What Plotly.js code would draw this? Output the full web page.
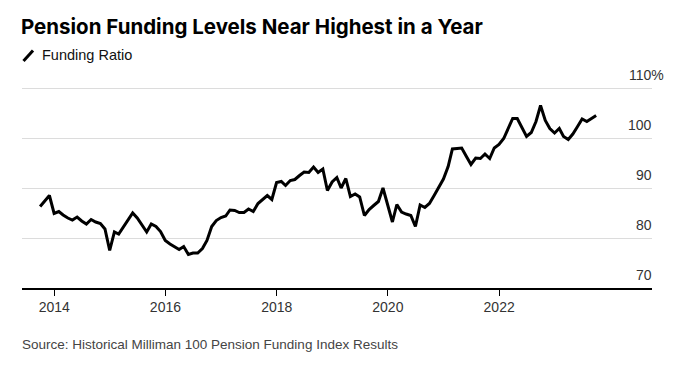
<!DOCTYPE html>
<html>
<head>
<meta charset="utf-8">
<script src="https://cdn.plot.ly/plotly-3.0.1.min.js"></script>
<style>
  html, body { margin: 0; padding: 0; background: #ffffff; }
  #chart { width: 700px; height: 367px; }
</style>
</head>
<body>
<div id="chart"></div>
<script>
// Month-end dates of the Milliman 100 Pension Funding Index
const dates = [
  "2013-09-30","2013-10-31","2013-11-30","2013-12-31",
  "2014-01-31","2014-02-28","2014-03-31","2014-04-30","2014-05-31","2014-06-30","2014-07-31","2014-08-31","2014-09-30","2014-10-31","2014-11-30","2014-12-31",
  "2015-01-31","2015-02-28","2015-03-31","2015-04-30","2015-05-31","2015-06-30","2015-07-31","2015-08-31","2015-09-30","2015-10-31","2015-11-30","2015-12-31",
  "2016-01-31","2016-02-29","2016-03-31","2016-04-30","2016-05-31","2016-06-30","2016-07-31","2016-08-31","2016-09-30","2016-10-31","2016-11-30","2016-12-31",
  "2017-01-31","2017-02-28","2017-03-31","2017-04-30","2017-05-31","2017-06-30","2017-07-31","2017-08-31","2017-09-30","2017-10-31","2017-11-30","2017-12-31",
  "2018-01-31","2018-02-28","2018-03-31","2018-04-30","2018-05-31","2018-06-30","2018-07-31","2018-08-31","2018-09-30","2018-10-31","2018-11-30","2018-12-31",
  "2019-01-31","2019-02-28","2019-03-31","2019-04-30","2019-05-31","2019-06-30","2019-07-31","2019-08-31","2019-09-30","2019-10-31","2019-11-30","2019-12-31",
  "2020-01-31","2020-02-29","2020-03-31","2020-04-30","2020-05-31","2020-06-30","2020-07-31","2020-08-31","2020-09-30","2020-10-31","2020-11-30","2020-12-31",
  "2021-01-31","2021-02-28","2021-03-31","2021-04-30","2021-05-31","2021-06-30","2021-07-31","2021-08-31","2021-09-30","2021-10-31","2021-11-30","2021-12-31",
  "2022-01-31","2022-02-28","2022-03-31","2022-04-30","2022-05-31","2022-06-30","2022-07-31","2022-08-31","2022-09-30","2022-10-31","2022-11-30","2022-12-31",
  "2023-01-31","2023-02-28","2023-03-31","2023-04-30","2023-05-31","2023-06-30","2023-07-31","2023-08-31","2023-09-30"
];

// Funding ratio (%)
const fundingRatio = [
  86.3, 87.4, 88.5, 84.9,
  85.3, 84.6, 84.0, 83.6, 84.2, 83.4, 82.8, 83.7, 83.2, 82.9, 81.8, 77.5,
  81.2, 80.8, 82.2, 83.6, 85.0, 84.0, 82.6, 81.2, 82.8, 82.3, 81.3, 79.5,
  78.8, 78.3, 77.7, 78.3, 76.7, 77.0, 77.0, 77.9, 79.5, 82.3, 83.5, 84.1,
  84.4, 85.6, 85.5, 85.1, 85.1, 85.8, 85.3, 86.9, 87.7, 88.5, 87.7, 91.1,
  91.3, 90.5, 91.5, 91.7, 92.5, 93.2, 93.1, 94.2, 93.1, 93.8, 89.5, 91.2,
  92.1, 90.0, 91.9, 88.3, 88.8, 88.2, 84.5, 85.7, 86.5, 87.3, 90.0, 86.3,
  83.2, 86.7, 85.2, 84.8, 84.5, 82.3, 86.6, 86.1, 86.9, 88.5, 90.2, 91.8,
  94.3, 97.8, 97.9, 98.0, 96.3, 94.7, 96.0, 95.9, 96.8, 95.9, 98.0, 98.7,
  99.9, 101.7, 103.9, 103.9, 102.0, 100.3, 101.1, 103.3, 106.5, 103.5, 101.9, 101.0,
  101.9, 100.3, 99.7, 100.8, 102.3, 103.8, 103.3, 103.9, 104.5
];

const xTickVals = ["2014-01-01", "2016-01-01", "2018-01-01", "2020-01-01", "2022-01-01"];
const xTickText = ["2014", "2016", "2018", "2020", "2022"];
const yTickVals = [70, 80, 90, 100, 110];
const yTickText = ["70", "80", "90", "100", "110%"];

const titleText = "Pension Funding Levels Near Highest in a Year";
const seriesName = "Funding Ratio";
const sourceText = "Source: Historical Milliman 100 Pension Funding Index Results";

const bodyFont = "Liberation Sans, Arial, sans-serif";

const trace = {
  x: dates,
  y: fundingRatio,
  type: "scatter",
  mode: "lines",
  name: seriesName,
  line: { color: "#000000", width: 3, shape: "linear" },
  hoverinfo: "x+y",
  showlegend: false
};

// right-side value labels, sitting above their gridlines
const yLabelAnnotations = yTickVals.map((v, i) => {
  const isPct = yTickText[i].endsWith("%");
  return {
    xref: "paper", yref: "y",
    x: 1, y: v,
    text: yTickText[i],
    showarrow: false,
    xanchor: "right",
    yanchor: "middle",
    xshift: isPct ? 14 : 2,
    yshift: 13,
    font: { family: bodyFont, size: 14, color: "#333333" }
  };
});

// plot area: x 22..652 px, y 86..288 px
const PH = 202;
const layout = {
  width: 700,
  height: 367,
  margin: { l: 22, r: 48, t: 86, b: 79 },
  paper_bgcolor: "#ffffff",
  plot_bgcolor: "#ffffff",
  title: {
    text: titleText,
    xref: "container", yref: "container",
    x: 21 / 700, xanchor: "left",
    y: 1 - 27 / 367, yanchor: "middle",
    font: { family: "Inter, Liberation Sans, Arial, sans-serif", size: 20.5, weight: 700, color: "#000000" }
  },
  xaxis: {
    type: "date",
    range: ["2013-06-03", "2024-10-01"],
    showgrid: false,
    zeroline: false,
    showline: true,
    linecolor: "#000000",
    linewidth: 1.5,
    ticks: "outside",
    ticklen: 6,
    tickwidth: 1,
    tickcolor: "#000000",
    tickvals: xTickVals,
    ticktext: xTickText,
    tickfont: { family: bodyFont, size: 14, color: "#333333" },
    fixedrange: true
  },
  yaxis: {
    range: [70, 110.4],
    showgrid: true,
    gridcolor: "#dcdcdc",
    gridwidth: 1,
    zeroline: false,
    showline: false,
    tickvals: yTickVals,
    showticklabels: false,
    ticks: "",
    fixedrange: true
  },
  shapes: [
    {
      type: "line",
      xref: "paper", yref: "paper",
      x0: 1.5 / 630, y0: (288 - 61) / PH,
      x1: 11 / 630, y1: (288 - 50.5) / PH,
      line: { color: "#000000", width: 3 }
    }
  ],
  annotations: [
    {
      xref: "paper", yref: "paper",
      x: 18 / 630, y: (288 - 55) / PH,
      xanchor: "left", yanchor: "middle",
      text: seriesName,
      showarrow: false,
      font: { family: bodyFont, size: 14.5, color: "#111111" }
    },
    {
      xref: "paper", yref: "paper",
      x: 0, y: (288 - 344) / PH,
      xanchor: "left", yanchor: "middle",
      xshift: -2,
      text: sourceText,
      showarrow: false,
      font: { family: bodyFont, size: 13.5, color: "#444444" }
    }
  ].concat(yLabelAnnotations),
  showlegend: false
};

Plotly.newPlot("chart", [trace], layout, { displayModeBar: false, staticPlot: true });
</script>
</body>
</html>
